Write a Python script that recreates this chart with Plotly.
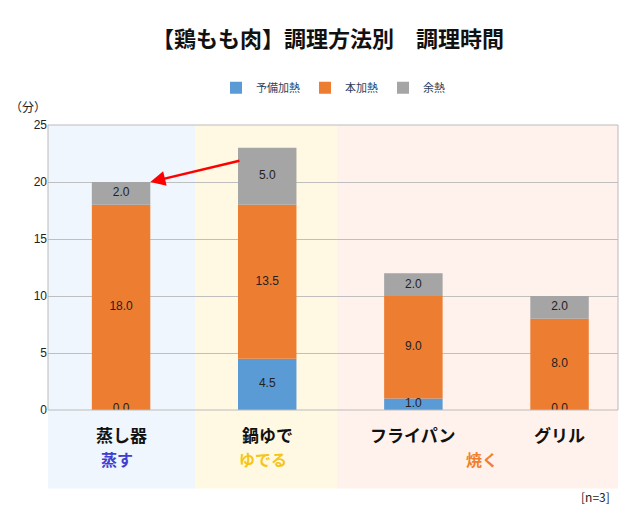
import plotly.graph_objects as go

categories = ["蒸し器", "鍋ゆで", "フライパン", "グリル"]
preheat = [0.0, 4.5, 1.0, 0.0]
main_heat = [18.0, 13.5, 9.0, 8.0]
residual = [2.0, 5.0, 2.0, 2.0]
groups = ["蒸す", "ゆでる", "焼く"]
y_ticks = [0, 5, 10, 15, 20, 25]

F = "Noto Sans CJK JP"
xs = list(range(len(categories)))
fig = go.Figure()
series = [("予備加熱", preheat, "#5B9BD5"), ("本加熱", main_heat, "#ED7D31"), ("余熱", residual, "#A5A5A5")]
base = [0.0] * 4
for name, vals, col in series:
    fig.add_bar(x=xs, y=vals, base=base[:], name=name, marker_color=col, width=0.4,
                marker_line_width=0)
    ty = [b + v / 2 if v > 0 else b + 0.1 for b, v in zip(base, vals)]
    fig.add_scatter(x=xs, y=ty, mode="text", text=[f"{v:.1f}" for v in vals],
                    textfont=dict(size=12, color="#222", family="Liberation Sans"),
                    showlegend=False, hoverinfo="skip")
    base = [b + v for b, v in zip(base, vals)]

shapes = []
bands = [(-0.5, 0.506, "rgba(220,235,250,0.45)"), (0.506, 1.48, "rgba(255,240,190,0.45)"),
         (1.48, 3.4, "rgba(255,220,205,0.4)")]
for x0, x1, c in bands:
    shapes.append(dict(type="rect", xref="x", yref="paper", x0=x0, x1=x1, y0=-0.275, y1=1,
                       fillcolor=c, line_width=0, layer="below"))
shapes.append(dict(type="rect", xref="paper", yref="paper", x0=0, x1=1, y0=0, y1=1,
                   line=dict(color="#BBBBBB", width=1)))

ann = [dict(x=0.2, y=20, ax=0.82, ay=21.9, xref="x", yref="y", axref="x", ayref="y",
            showarrow=True, arrowhead=2, arrowsize=1.2, arrowwidth=2.5, arrowcolor="#FF0000", text="")]
for i, c in enumerate(categories):
    ann.append(dict(x=i, y=-0.035, xref="x", yref="paper", yanchor="top", text=f"<b>{c}</b>",
                    showarrow=False, font=dict(size=17, family=F, color="#111")))
gx = [0, 1, 2.5]
gc = ["#4040D0", "#F5C518", "#F08030"]
for g, x, c in zip(groups, gx, gc):
    ann.append(dict(x=x - 0.03, y=-0.22, xref="x", yref="paper", text=f"<b>{g}</b>", showarrow=False,
                    font=dict(size=16, family=F, color=c)))
ann.append(dict(x=0.0, y=1.1, xref="paper", yref="paper", text="（分）", showarrow=False,
                xanchor="right", font=dict(size=12, family=F, color="#222")))
ann.append(dict(x=0.99, y=-0.34, xref="paper", yref="paper", text="[n=3]", showarrow=False,
                xanchor="right", font=dict(size=12, family=F, color="#222")))

fig.update_layout(
    width=640, height=529, margin=dict(l=40, r=30, t=117, b=127, autoexpand=False),
    paper_bgcolor="white", plot_bgcolor="white", barmode="overlay",
    title=dict(text="<b>【鶏もも肉】調理方法別　調理時間</b>", x=0.5, y=0.955, xanchor="center",
               font=dict(size=22, family=F, color="#111")),
    legend=dict(orientation="h", x=0.5, xanchor="center", y=1.08, yanchor="bottom",
                font=dict(size=11, family=F), itemwidth=30, traceorder="normal"),
    xaxis=dict(range=[-0.5, 3.4], showticklabels=False, showgrid=False, zeroline=False),
    yaxis=dict(range=[0, 25], tickvals=y_ticks, gridcolor="#BFBFBF", zeroline=False,
               tickfont=dict(size=12, family="Liberation Sans", color="#222"), ticklen=0,
               automargin=False),
    shapes=shapes, annotations=ann, font=dict(family=F),
)
fig.write_html("out.html")
